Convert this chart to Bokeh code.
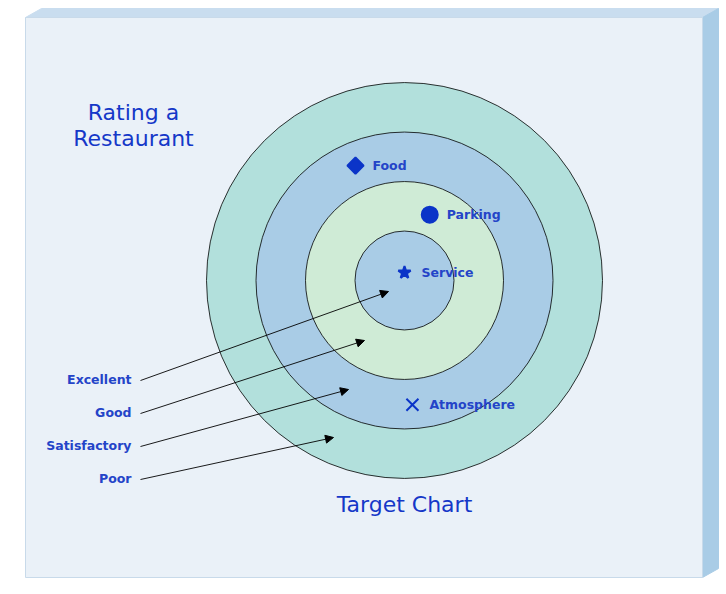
from bokeh.plotting import figure
from bokeh.models import Range1d, Arrow, NormalHead, ColumnDataSource
from bokeh.core.properties import value
from bokeh.embed import file_html
from bokeh.resources import INLINE

# ---------------- data ----------------
levels = ["Excellent", "Good", "Satisfactory", "Poor"]
level_rank = [1, 2, 3, 4]            # ring index (1 = bull's eye)
ring_colors = ["#A9CCE6", "#CFEBD6", "#A9CCE6", "#B2E0DC"]

items = ["Food", "Parking", "Service", "Atmosphere"]
item_x = [-0.99, 0.51, 0.0, 0.16]    # position in ring units (right +)
item_y = [2.32, 1.33, 0.16, -2.51]   # position in ring units (up +)
item_marker = ["square", "circle", "star", "x"]

title_lines = ["Rating a", "Restaurant"]
footer = "Target Chart"

# ---------------- layout ----------------
CX, CY, RING = 404, 280, 49.5
BLUE_TXT = "#2444C8"
BLUE_MK = "#0B34C8"

p = figure(width=722, height=590, x_range=Range1d(0, 722), y_range=Range1d(590, 0),
           output_backend="svg", toolbar_location=None, min_border=0)
p.axis.visible = False
p.grid.visible = False
p.outline_line_color = None
p.background_fill_color = "white"
p.border_fill_color = "white"

# 3D box
p.patch([25, 41, 718, 702], [17, 8, 8, 17], fill_color="#C9DDEF", line_color="#C9DDEF")
p.patch([702, 718, 718, 702], [17, 8, 568, 577], fill_color="#A9CCE6", line_color="#A9CCE6")
p.patch([25, 702, 702, 25], [17, 17, 577, 577], fill_color="#EAF1F8", line_color="#C8DAEA")

# rings (largest first)
order = sorted(range(len(levels)), key=lambda i: -level_rank[i])
p.circle(x=[CX] * 4, y=[CY] * 4,
         radius=[level_rank[i] * RING for i in order],
         fill_color=[ring_colors[i] for i in order],
         line_color="black", line_width=0.8)

# items
mx = [CX + v * RING for v in item_x]
my = [CY - v * RING for v in item_y]
sizes = {"square": 11.5, "circle": 16, "star": 13, "x": 17}
angles = {"square": 0.785398, "circle": 0, "star": 0, "x": 0}
src = ColumnDataSource(dict(x=mx, y=my, m=item_marker,
                            s=[sizes[m] for m in item_marker],
                            a=[angles[m] for m in item_marker],
                            t=items))
p.scatter(x="x", y="y", marker="m", size="s", angle="a", source=src,
          fill_color=BLUE_MK, line_color=BLUE_MK, line_width=2)
p.text(x="x", y="y", text="t", source=src, x_offset=17,
       text_font=value("DejaVu Sans"), text_font_style="bold", text_font_size="12.5px",
       text_color=BLUE_TXT, text_baseline="middle", text_align="left")

# level labels with arrows
lab_y = [379 + 33 * (r - 1) for r in level_rank]
tip_x = [388, 364, 348, 333]
tip_y = [291, 340, 389, 437]
p.text(x=[131] * 4, y=lab_y, text=levels,
       text_font=value("DejaVu Sans"), text_font_style="bold", text_font_size="12.5px",
       text_color=BLUE_TXT, text_baseline="middle", text_align="right")
asrc = ColumnDataSource(dict(x0=[140] * 4, y0=[y + 1 for y in lab_y], x1=tip_x, y1=tip_y))
p.add_layout(Arrow(end=NormalHead(size=8, fill_color="black", line_color="black", line_width=1),
                   x_start="x0", y_start="y0", x_end="x1", y_end="y1",
                   source=asrc, line_color="black", line_width=0.9))

# titles
p.text(x=[133, 133], y=[112, 138], text=title_lines,
       text_font=value("DejaVu Sans"), text_font_size="22px",
       text_color="#1538C8", text_baseline="middle", text_align="center")
p.text(x=[404], y=[504], text=[footer],
       text_font=value("DejaVu Sans"), text_font_size="22px",
       text_color="#1538C8", text_baseline="middle", text_align="center")

open("out.html", "w").write(file_html(p, INLINE))
